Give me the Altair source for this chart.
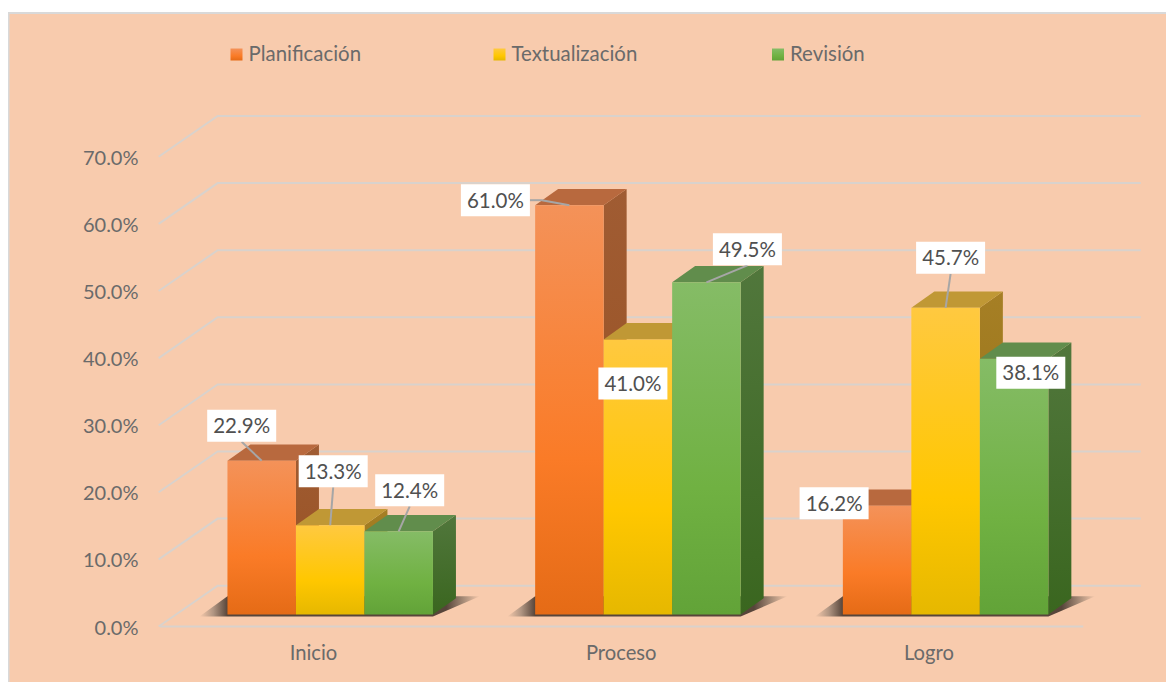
import json
import altair as alt
import pandas as pd

categories = ["Inicio", "Proceso", "Logro"]
series = ["Planificación", "Textualización", "Revisión"]
planificacion = [22.9, 61.0, 16.2]
textualizacion = [13.3, 41.0, 45.7]
revision = [12.4, 49.5, 38.1]
ticks = [0, 10, 20, 30, 40, 50, 60, 70]

# label box centre relative to the bar's top-centre, px (one row per series, one column per category)
label_offset = {
    "Planificación": [(-20, -35), (-74, -5), (-43, -2.5)],
    "Textualización": [(3, -54), (-5, 44), (5, -50)],
    "Revisión": [(11, -41), (41, -33), (16.7, 14)],
}
# leader lines: anchor side on the label box
leader_from = {
    ("Planificación", "Inicio"): "bottom",
    ("Planificación", "Proceso"): "elbow",
    ("Textualización", "Inicio"): "bottom",
    ("Textualización", "Logro"): "bottom",
    ("Revisión", "Inicio"): "bottom",
    ("Revisión", "Proceso"): "bottom",
}

PX_X, PX_Y = 307.7, 6.71
X0_PX, Y0_PX = 314.0, 626.5
LEFT, TOP, RIGHT, BOTTOM = 8.0, 13.0, 1166.0, 682.0

FONT = "Lato"
TXT = "#6A6A6A"
GRID = "#D9D2CC"


def ux(px):
    return px / PX_X


def uy(px):
    return px / PX_Y


X_DOMAIN = [(LEFT - X0_PX) / PX_X, (RIGHT - X0_PX) / PX_X]
Y_DOMAIN = [(Y0_PX - BOTTOM) / PX_Y, (Y0_PX - TOP) / PX_Y]
x_scale = alt.Scale(domain=X_DOMAIN, nice=False, zero=False)
y_scale = alt.Scale(domain=Y_DOMAIN, nice=False, zero=False)
x_axis = alt.Axis(
    values=[0, 1, 2],
    labelExpr=f"{json.dumps(categories)}[datum.value]",
    grid=False, domain=False, ticks=False, title=None,
    labelFont=FONT, labelFontSize=20.2, labelColor=TXT, labelOffset=-1,
    labelPadding=0, offset=-29, labelBaseline="middle", labelOverlap=False,
)
y_axis = alt.Axis(
    values=ticks,
    labelExpr="format(datum.value, '.1f') + '%'",
    grid=False, domain=False, ticks=False, title=None,
    labelFont=FONT, labelFontSize=20, labelColor=TXT, labelOffset=1.5,
    labelPadding=0, offset=-130, labelOverlap=False,
)
X = lambda f="x": alt.X(f, type="quantitative", scale=x_scale, axis=x_axis)
Y = lambda f="y": alt.Y(f, type="quantitative", scale=y_scale, axis=y_axis)
X2 = alt.X2("x2")
Y2 = alt.Y2("y2")

BAR_W = ux(68.5)
PLANE_DX, PLANE_DY = ux(16.2), uy(12)
DEPTH_DX, DEPTH_DY = ux(23), uy(16.3)
BACK_DX, BACK_DY = ux(57.5), uy(40.8)
FRONT_L, FRONT_R = -0.5, 2.5
BACK_R = FRONT_R + BACK_DX


def grad(stops, horizontal=False):
    return alt.Gradient(
        gradient="linear",
        stops=[alt.GradientStop(offset=o, color=c) for o, c in stops],
        x1=0, x2=1 if horizontal else 0, y1=0, y2=0 if horizontal else 1,
    )


front_fill = {
    "Planificación": grad([(0, "#F49259"), (0.62, "#FA7B27"), (1, "#E56B16")]),
    "Textualización": grad([(0, "#FFC940"), (0.62, "#FFC700"), (1, "#E6B800")]),
    "Revisión": grad([(0, "#85BC66"), (0.62, "#70B142"), (1, "#62A338")]),
}
top_fill = {"Planificación": "#B8693E", "Textualización": "#C09835", "Revisión": "#618D4C"}
side_fill = {
    "Planificación": grad([(0, "#A05C33"), (1, "#97501F")]),
    "Textualización": grad([(0, "#A67F25"), (1, "#8F6E10")]),
    "Revisión": grad([(0, "#51773C"), (1, "#3A661F")]),
}
values = dict(zip(series, [planificacion, textualizacion, revision]))

layers = []

# walls: front-edge to back-wall gridlines
grid_rows = []
for t in ticks:
    grid_rows += [
        dict(t=t, o=0, x=FRONT_L - ux(1.5), y=t),
        dict(t=t, o=1, x=FRONT_L + BACK_DX, y=t + BACK_DY),
        dict(t=t, o=2, x=BACK_R, y=t + BACK_DY),
    ]
layers.append(
    alt.Chart(pd.DataFrame(grid_rows))
    .mark_line(color=GRID, strokeWidth=2)
    .encode(x=X(), y=Y(), detail="t:N", order="o:Q")
)
# front floor edge
layers.append(
    alt.Chart(pd.DataFrame([dict(x=FRONT_L, x2=FRONT_R, y=0)]))
    .mark_rule(color=GRID, strokeWidth=2)
    .encode(x=X(), x2=X2, y=Y())
)
# panel border (left and top)
layers.append(
    alt.Chart(pd.DataFrame([dict(x=X_DOMAIN[0] + ux(0.5), y=Y_DOMAIN[0], y2=Y_DOMAIN[1])]))
    .mark_rule(color="#D9D9D9", strokeWidth=2)
    .encode(x=X(), y=Y(), y2=Y2)
)
layers.append(
    alt.Chart(pd.DataFrame([dict(x=X_DOMAIN[0], x2=X_DOMAIN[1], y=Y_DOMAIN[1])]))
    .mark_rule(color="#D9D9D9", strokeWidth=2)
    .encode(x=X(), x2=X2, y=Y())
)

# floor shadows
shadow_rows = []
for i, c in enumerate(categories):
    l = i + PLANE_DX - 1.5 * BAR_W
    r = i + PLANE_DX + 1.5 * BAR_W
    shadow_rows += [
        dict(c=c, y=PLANE_DY - uy(2), x=l - ux(28), x2=r + ux(0)),
        dict(c=c, y=PLANE_DY + DEPTH_DY + uy(2), x=l + ux(0), x2=r + ux(47)),
    ]
layers.append(
    alt.Chart(pd.DataFrame(shadow_rows))
    .mark_area(orient="horizontal", color=grad([
        (0, "#F8CBAD"), (0.05, "#B09582"), (0.10, "#57453A"),
        (0.88, "#57453A"), (0.94, "#A58A76"), (1, "#F8CBAD")], horizontal=True))
    .encode(x=X(), x2=X2, y=Y(), detail="c:N")
)

# 3-D bars: each series paints side, top, then front, so later series overlap earlier ones
for j, s in enumerate(series):
    side, top, front = [], [], []
    for i, c in enumerate(categories):
        v = values[s][i]
        x0 = i + PLANE_DX + (j - 1.5) * BAR_W
        x1 = x0 + BAR_W
        base, peak = PLANE_DY, v + PLANE_DY
        front.append(dict(c=c, x=x0, x2=x1, y=base, y2=peak))
        top += [
            dict(c=c, y=peak, x=x0, x2=x1),
            dict(c=c, y=peak + DEPTH_DY, x=x0 + DEPTH_DX, x2=x1 + DEPTH_DX),
        ]
        side += [
            dict(c=c, x=x1, y=base, y2=peak),
            dict(c=c, x=x1 + DEPTH_DX, y=base + DEPTH_DY, y2=peak + DEPTH_DY),
        ]
    layers.append(
        alt.Chart(pd.DataFrame(side)).mark_area(orient="vertical", color=side_fill[s])
        .encode(x=X(), y=Y(), y2=Y2, detail="c:N")
    )
    layers.append(
        alt.Chart(pd.DataFrame(top)).mark_area(orient="horizontal", color=top_fill[s])
        .encode(x=X(), x2=X2, y=Y(), detail="c:N")
    )
    layers.append(
        alt.Chart(pd.DataFrame(front)).mark_rect(color=front_fill[s])
        .encode(x=X(), x2=X2, y=Y(), y2=Y2)
    )

# data labels with leader lines
BOX_W, BOX_H = 69, 32
boxes, lead = [], []
for j, s in enumerate(series):
    for i, c in enumerate(categories):
        v = values[s][i]
        bx = i + PLANE_DX + (j - 1) * BAR_W
        by = v + PLANE_DY
        dx, dy = label_offset[s][i]
        cx, cy = bx + ux(dx), by - uy(dy)
        boxes.append(dict(
            x=cx - ux(BOX_W / 2), x2=cx + ux(BOX_W / 2),
            y=cy - uy(BOX_H / 2), y2=cy + uy(BOX_H / 2),
            cx=cx, cy=cy, label=f"{v:.1f}%"))
        kind = leader_from.get((s, c))
        if kind == "bottom":
            lead.append(dict(x=cx, y=cy - uy(BOX_H / 2), x2=bx, y2=by))
        elif kind == "elbow":
            ex = cx + ux(BOX_W / 2)
            lead.append(dict(x=ex, y=cy, x2=ex + ux(12), y2=cy))
            lead.append(dict(x=ex + ux(12), y=cy, x2=bx, y2=by))
layers.append(
    alt.Chart(pd.DataFrame(lead)).mark_rule(color="#A6A6A6", strokeWidth=2)
    .encode(x=X(), y=Y(), x2=X2, y2=Y2)
)
box_df = pd.DataFrame(boxes)
layers.append(
    alt.Chart(box_df).mark_rect(color="white").encode(x=X(), x2=X2, y=Y(), y2=Y2)
)
layers.append(
    alt.Chart(box_df).mark_text(font=FONT, fontSize=20.5, color="#505050", align="center", baseline="middle", dy=1.5)
    .encode(x=X("cx"), y=Y("cy"), text="label:N")
)

# legend
legend_px = [230.5, 493.5, 772.0]
LEG_Y = (Y0_PX - 54.5) / PX_Y
leg_text = []
for s, p in zip(series, legend_px):
    x = (p - X0_PX) / PX_X
    layers.append(
        alt.Chart(pd.DataFrame([dict(x=x, x2=x + ux(12), y=LEG_Y - uy(6), y2=LEG_Y + uy(6))]))
        .mark_rect(color=front_fill[s]).encode(x=X(), x2=X2, y=Y(), y2=Y2)
    )
    leg_text.append(dict(x=x + ux(18), y=LEG_Y, label=s))
layers.append(
    alt.Chart(pd.DataFrame(leg_text))
    .mark_text(font=FONT, fontSize=20.4, color=TXT, align="left", baseline="middle")
    .encode(x=X(), y=Y(), text="label:N")
)

chart = (
    alt.layer(*layers)
    .properties(
        width=RIGHT - LEFT,
        height=BOTTOM - TOP,
        padding={"left": 0, "top": 5, "right": 0, "bottom": 0},
        autosize=alt.AutoSizeParams(type="none"),
        background="white",
    )
    .configure_view(fill="#F8CBAD", stroke=None)
)
chart.save("out.html", embed_options={"renderer": "svg", "actions": False})
